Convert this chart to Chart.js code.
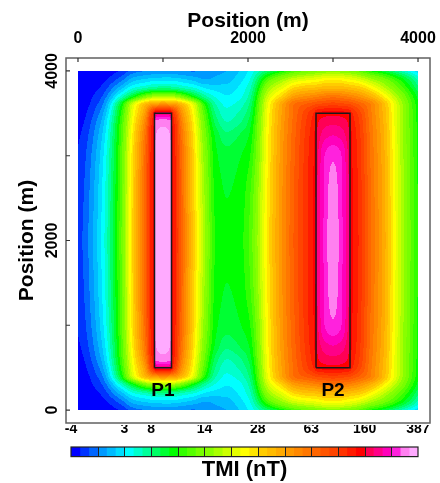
<!DOCTYPE html>
<html>
<head>
<meta charset="utf-8">
<title>TMI map</title>
<script src="https://cdn.jsdelivr.net/npm/chart.js@4.4.1/dist/chart.umd.min.js"></script>
<style>
  html, body { margin: 0; padding: 0; background: #fff; }
  #wrap { position: relative; width: 440px; height: 483px; }
  #mapChart { position: absolute; left: 0; top: 0; }
  #barChart { position: absolute; left: 0; top: 425px; }
</style>
</head>
<body>
<div id="wrap">
  <canvas id="mapChart" width="440" height="483"></canvas>
  <canvas id="barChart" width="440" height="58"></canvas>
</div>
<script>
const FONT = '"Liberation Sans", Arial, sans-serif';

// grid nodes (m)
const xNodes = [0, 250, 500, 650, 800, 850, 890, 910, 1000, 1090, 1110, 1150, 1200, 1350, 1500, 1625, 1750, 1900,
                2000, 2250, 2400, 2550, 2700, 2780, 2810, 2900, 3000, 3100, 3190, 3220, 3300, 3450, 3600, 3800, 4000];
const yNodes = [4000, 3900, 3800, 3700, 3600, 3500, 3400, 3250, 3000, 2500, 2000,
                1500, 1000, 750, 600, 500, 400, 300, 200, 100, 0];

// TMI (nT) along each grid row; the map is symmetric about y = 2000 m
const tmiY4000 = [-3.9, -3.7, -2.35, -0.5, 0, 0.1, 0.2, 0.2, 0.3, 0.3, 0.3, 0.2, 0.1, -0.1, 0.2, 0.7, 1, 2, 3, 8.6, 10.4, 12.1, 13.1, 13.5, 13.7, 14, 14.6, 14, 13.7, 13.5, 12.8, 10.8, 9.4, 5.7, 2.3];
const tmiY3900 = [-3.85, -3.25, -0.5, 1.5, 2.2, 2.4, 2.5, 2.5, 2.6, 2.6, 2.5, 2.5, 2.3, 1.7, 1, 1.3, 1.6, 2.6, 3.9, 12.6, 16, 19.6, 21.2, 21.8, 22, 23.8, 24.1, 23.8, 22, 21.8, 20.6, 16.8, 13.6, 10.6, 5.7];
const tmiY3800 = [-3.8, -2.5, 1.5, 4.5, 6, 6.8, 7, 7.2, 7.6, 7.4, 7.2, 7, 6.2, 4.8, 2.9, 2.5, 2.4, 3.3, 4.95, 16.4, 21.4, 29, 33, 33.5, 34.5, 36, 36.5, 36, 34.5, 33.5, 31.5, 24.4, 18.4, 12.5, 8.3];
const tmiY3700 = [-3.6, -1.6, 4.8, 10.1, 13.8, 15.4, 16.2, 16.6, 17.4, 16.8, 16.4, 15.6, 14, 10.5, 6.6, 4.2, 3.15, 4.05, 6, 20.4, 29.5, 45.8, 51.2, 53.6, 54.8, 58.1, 60.2, 58.1, 54.8, 53.6, 49.4, 38, 25, 14.6, 9.6];
const tmiY3600 = [-3.5, -0.7, 9.8, 20.8, 38.6, 46.4, 49.4, 50.6, 53.6, 51.2, 50, 47, 39.8, 21.8, 10.8, 6, 4.2, 5.25, 7.6, 23.8, 43.4, 65.4, 80.2, 88, 92.5, 97, 101.5, 97, 92.5, 88, 76.3, 55.4, 35, 17, 10.3];
const tmiY3500 = [-3.25, 0, 10.8, 22.6, 50, 88, 128, 175, 190, 175, 128, 91, 56, 24.4, 11.9, 7.6, 5.1, 6.4, 8.4, 24.7, 44.6, 67.8, 101.5, 124, 140, 150, 152, 150, 140, 124, 98.5, 56.7, 36, 17.2, 10.5];
const tmiY3400 = [-3, 0.6, 11.4, 24.4, 58, 108, 140, 322, 334, 322, 140, 110, 63, 26.2, 12.6, 8.5, 6, 7.6, 9, 25.3, 45.8, 70.2, 108, 134, 154, 175, 181, 175, 154, 134, 106.4, 58.1, 37, 17.2, 10.6];
const tmiY3250 = [-2.7, 1.2, 11.8, 26.5, 66.6, 115, 146, 346, 361, 346, 146, 115, 71.4, 28, 13.3, 9.6, 8.2, 9, 9.8, 25.9, 47, 72.6, 113, 140, 160, 207.5, 222, 207.5, 160, 140, 111.5, 59.5, 38, 17.4, 10.7];
const tmiY3000 = [-2.4, 1.8, 12.1, 28.5, 73.8, 118, 150, 354, 368, 354, 148, 118, 77.6, 30.5, 14, 10.2, 9.4, 9.9, 10.6, 26.5, 48.2, 75, 116.6, 144, 175, 265, 300, 265, 175, 144, 114.9, 60.9, 39.2, 17.6, 10.8];
const tmiY2500 = [-2.05, 2.3, 12.4, 30, 76.3, 120, 152, 357, 372, 357, 150, 120, 80.2, 32, 15.2, 10.6, 10, 10.4, 11.5, 27.4, 49.4, 77.6, 120, 146, 187, 272, 338, 272, 187, 146, 118.3, 62.3, 40.4, 17.8, 10.9];
const tmiY2000 = [-1.8, 2.5, 12.5, 30.5, 77.6, 120, 152, 357, 372, 357, 150, 120, 81.5, 33, 16, 10.8, 10.2, 10.6, 11.8, 28, 50, 78.9, 120, 148, 190, 278, 348, 278, 190, 148, 120, 63, 41, 18, 11];

const tmiGrid = [tmiY4000, tmiY3900, tmiY3800, tmiY3700, tmiY3600, tmiY3500, tmiY3400, tmiY3250, tmiY3000, tmiY2500, tmiY2000,
                 tmiY2500, tmiY3000, tmiY3250, tmiY3400, tmiY3500, tmiY3600, tmiY3700, tmiY3800, tmiY3900, tmiY4000];

// contour levels (nT) and their fill colours
const levelBounds = [-4, -2.5, -1, 0, 1, 2, 3, 4.5, 6, 8, 9, 10, 11, 12, 13, 14, 16, 18, 20, 22,
                     25, 28, 33, 38, 44, 50, 56, 63, 75, 88, 103, 120, 140, 160, 190, 225, 265, 310, 350, 387];
const levelColors = ['#0000ff', '#0033ff', '#0066ff', '#0099ff', '#00bbff', '#00ddff', '#00ffff', '#00ffcc',
                     '#00ff99', '#00ff66', '#00ff33', '#00ff00', '#33ff00', '#55ff00', '#77ff00', '#88ff00',
                     '#aaff00', '#ccff00', '#e6ff00', '#ffff00', '#ffe600', '#ffcc00', '#ffbb00', '#ffaa00',
                     '#ff9900', '#ff8800', '#ff7700', '#ff6600', '#ff5500', '#ff4400', '#ff3300', '#ff1a00',
                     '#ff0000', '#ff0055', '#ff0088', '#ff00bb', '#ff22dd', '#ff80f0', '#ffaaff'];
const barTicks = [-4, 3, 8, 14, 28, 63, 160, 387];

// source bodies
const prismNames = ['P1', 'P2'];
const prismX = [[900, 1100], [2800, 3200]];
const prismY = [[500, 3500], [500, 3500]];
const prismLabelAt = [[1000, 230], [3000, 230]];

const posTicks = [0, 1000, 2000, 3000, 4000];
const posLabels = [0, 2000, 4000];

function levelOf(v) {
  if (v <= levelBounds[0]) return 0;
  for (let i = 1; i < levelBounds.length; i++) {
    if (v < levelBounds[i]) {
      return i - 1 + (v - levelBounds[i - 1]) / (levelBounds[i] - levelBounds[i - 1]);
    }
  }
  return levelColors.length - 0.001;
}

// monotone cubic (Fritsch-Carlson) slopes for ascending xs
function endSlope(h0, h1, d0, d1) {
  let m = ((2 * h0 + h1) * d0 - h0 * d1) / (h0 + h1);
  if (Math.sign(m) !== Math.sign(d0)) m = 0;
  else if (Math.sign(d0) !== Math.sign(d1) && Math.abs(m) > Math.abs(3 * d0)) m = 3 * d0;
  return m;
}
function pchipSlopes(xs, ys) {
  const n = xs.length, h = [], d = [], m = new Array(n);
  for (let k = 0; k < n - 1; k++) { h[k] = xs[k + 1] - xs[k]; d[k] = (ys[k + 1] - ys[k]) / h[k]; }
  for (let k = 1; k < n - 1; k++) {
    if (d[k - 1] * d[k] <= 0) { m[k] = 0; continue; }
    const w1 = 2 * h[k] + h[k - 1], w2 = h[k] + 2 * h[k - 1];
    m[k] = (w1 + w2) / (w1 / d[k - 1] + w2 / d[k]);
  }
  m[0] = endSlope(h[0], h[1], d[0], d[1]);
  m[n - 1] = endSlope(h[n - 2], h[n - 3], d[n - 2], d[n - 3]);
  return m;
}
function hermite(xs, ys, ms, i, x) {
  const h = xs[i + 1] - xs[i], t = Math.min(1, Math.max(0, (x - xs[i]) / h));
  const t2 = t * t, t3 = t2 * t;
  return (2 * t3 - 3 * t2 + 1) * ys[i] + (t3 - 2 * t2 + t) * h * ms[i]
       + (-2 * t3 + 3 * t2) * ys[i + 1] + (t3 - t2) * h * ms[i + 1];
}
function segment(xs, v) {
  let i = 0;
  while (i < xs.length - 2 && v > xs[i + 1]) i++;
  return i;
}

// interpolation runs on the colour-level position, y handled as -y so it ascends
const uNodes = yNodes.map(v => -v);
const gridLevels = tmiGrid.map(row => row.map(levelOf));
const columns = xNodes.map((_, c) => gridLevels.map(row => row[c]));
const columnSlopes = columns.map(col => pchipSlopes(uNodes, col));
const colorRGB = levelColors.map(h => [parseInt(h.slice(1, 3), 16), parseInt(h.slice(3, 5), 16), parseInt(h.slice(5, 7), 16)]);

// filled contour image, drawn under the prism outlines
const heatLayer = {
  id: 'heatLayer',
  beforeDatasetsDraw(chart) {
    const { ctx, scales: { x, y } } = chart;
    const left = Math.round(x.getPixelForValue(xNodes[0]));
    const right = Math.round(x.getPixelForValue(xNodes[xNodes.length - 1]));
    const top = Math.round(y.getPixelForValue(yNodes[0]));
    const bottom = Math.round(y.getPixelForValue(yNodes[yNodes.length - 1]));
    const w = right - left, h = bottom - top;
    const img = ctx.createImageData(w, h);
    const xm = [], xi = [];
    for (let px = 0; px < w; px++) {
      xm.push(x.getValueForPixel(left + px + 0.5));
      xi.push(segment(xNodes, xm[px]));
    }
    for (let py = 0; py < h; py++) {
      const u = -y.getValueForPixel(top + py + 0.5);
      const j = segment(uNodes, u);
      const rowV = columns.map((col, c) => hermite(uNodes, col, columnSlopes[c], j, u));
      const rowM = pchipSlopes(xNodes, rowV);
      for (let px = 0; px < w; px++) {
        const lv = hermite(xNodes, rowV, rowM, xi[px], xm[px]);
        const k = Math.max(0, Math.min(levelColors.length - 1, Math.floor(lv)));
        const c = colorRGB[k];
        const o = (py * w + px) * 4;
        img.data[o] = c[0]; img.data[o + 1] = c[1]; img.data[o + 2] = c[2]; img.data[o + 3] = 255;
      }
    }
    ctx.putImageData(img, left, top);
  },
  afterDatasetsDraw(chart) {
    const { ctx, scales: { x, y } } = chart;
    ctx.save();
    ctx.font = 'bold 19px ' + FONT;
    ctx.fillStyle = '#000';
    ctx.textAlign = 'center';
    ctx.textBaseline = 'middle';
    prismNames.forEach((name, k) => {
      ctx.fillText(name, x.getPixelForValue(prismLabelAt[k][0]), y.getPixelForValue(prismLabelAt[k][1]));
    });
    ctx.restore();
  }
};

// box frame, inward tick marks and the rotated left labels
const frameLayer = {
  id: 'frameLayer',
  afterDraw(chart) {
    const { ctx, chartArea: a, scales: { x, y } } = chart;
    ctx.save();
    ctx.strokeStyle = '#606060';
    ctx.lineWidth = 1.5;
    ctx.strokeRect(a.left, a.top, a.right - a.left, a.bottom - a.top);
    ctx.strokeStyle = '#333';
    ctx.lineWidth = 1.2;
    ctx.beginPath();
    posTicks.forEach(v => {
      const px = x.getPixelForValue(v);
      ctx.moveTo(px, a.top); ctx.lineTo(px, a.top + 4);
      const py = y.getPixelForValue(v);
      ctx.moveTo(a.left, py); ctx.lineTo(a.left + 4, py);
    });
    ctx.stroke();
    ctx.font = 'bold 16px ' + FONT;
    ctx.fillStyle = '#000';
    ctx.textAlign = 'center';
    ctx.textBaseline = 'middle';
    posLabels.forEach(v => {
      ctx.save();
      ctx.translate(a.left - 13, y.getPixelForValue(v));
      ctx.rotate(-Math.PI / 2);
      ctx.fillText(String(v), 0, 0);
      ctx.restore();
    });
    ctx.restore();
  }
};

new Chart(document.getElementById('mapChart'), {
  type: 'scatter',
  data: {
    datasets: prismNames.map((name, k) => ({
      label: name,
      data: [
        { x: prismX[k][0], y: prismY[k][0] }, { x: prismX[k][1], y: prismY[k][0] },
        { x: prismX[k][1], y: prismY[k][1] }, { x: prismX[k][0], y: prismY[k][1] },
        { x: prismX[k][0], y: prismY[k][0] }
      ],
      showLine: true,
      borderColor: '#1a1a1a',
      borderWidth: 1.5,
      pointRadius: 0,
      fill: false
    }))
  },
  options: {
    responsive: false,
    animation: false,
    layout: { padding: { left: 0, top: 0, right: 10, bottom: 60 } },
    plugins: { legend: { display: false }, tooltip: { enabled: false } },
    scales: {
      x: {
        type: 'linear', position: 'top', min: -141, max: 4141,
        afterBuildTicks: s => { s.ticks = posTicks.map(v => ({ value: v })); },
        afterFit: s => { s.height = 58; },
        ticks: {
          callback: v => posLabels.includes(v) ? String(v) : '',
          font: { family: FONT, weight: 'bold', size: 16 }, color: '#000',
          padding: 2, maxRotation: 0, autoSkip: false
        },
        grid: { display: false },
        border: { display: false },
        title: {
          display: true, text: 'Position (m)', color: '#000',
          font: { family: FONT, weight: 'bold', size: 21 }, padding: { top: 9, bottom: 0 }
        }
      },
      y: {
        type: 'linear', position: 'left', min: -153, max: 4153,
        afterBuildTicks: s => { s.ticks = posTicks.map(v => ({ value: v })); },
        afterFit: s => { s.width = 66; },
        ticks: { display: false },
        grid: { display: false },
        border: { display: false },
        title: {
          display: true, text: 'Position (m)', color: '#000',
          font: { family: FONT, weight: 'bold', size: 21 }, padding: { top: 15, bottom: 0 }
        }
      }
    }
  },
  plugins: [heatLayer, frameLayer]
});

// colour bar: one stacked segment per contour level
const barFrame = {
  id: 'barFrame',
  afterDatasetsDraw(chart) {
    const { ctx, chartArea: a, scales: { x } } = chart;
    ctx.save();
    ctx.strokeStyle = '#222';
    ctx.lineWidth = 1;
    ctx.beginPath();
    for (let k = 3; k < levelColors.length; k += 3) {
      const px = Math.round(x.getPixelForValue(k)) + 0.5;
      ctx.moveTo(px, a.top); ctx.lineTo(px, a.bottom);
    }
    ctx.stroke();
    ctx.lineWidth = 1.2;
    ctx.strokeRect(a.left, a.top, a.right - a.left, a.bottom - a.top);
    ctx.restore();
  }
};

new Chart(document.getElementById('barChart'), {
  type: 'bar',
  data: {
    labels: ['TMI'],
    datasets: levelColors.map(c => ({
      data: [1], backgroundColor: c, borderWidth: 0, barPercentage: 1, categoryPercentage: 1
    }))
  },
  options: {
    indexAxis: 'y',
    responsive: false,
    animation: false,
    layout: { padding: { left: 71, right: 22, top: 0, bottom: 0 } },
    plugins: {
      legend: { display: false },
      tooltip: { enabled: false },
      title: {
        display: true, text: 'TMI (nT)', position: 'bottom', fullSize: false,
        color: '#000', font: { family: FONT, weight: 'bold', size: 22 }, padding: 0
      }
    },
    scales: {
      x: {
        stacked: true, position: 'top', min: 0, max: levelColors.length,
        afterBuildTicks: s => { s.ticks = barTicks.map(v => ({ value: levelBounds.indexOf(v) })); },
        afterFit: s => { s.height = 22; },
        ticks: {
          callback: v => String(levelBounds[v]),
          font: { family: FONT, weight: 'bold', size: 14 }, color: '#000',
          padding: 1, maxRotation: 0, autoSkip: false
        },
        grid: { display: false },
        border: { display: false }
      },
      y: { stacked: true, display: false }
    }
  },
  plugins: [barFrame]
});
</script>
</body>
</html>
